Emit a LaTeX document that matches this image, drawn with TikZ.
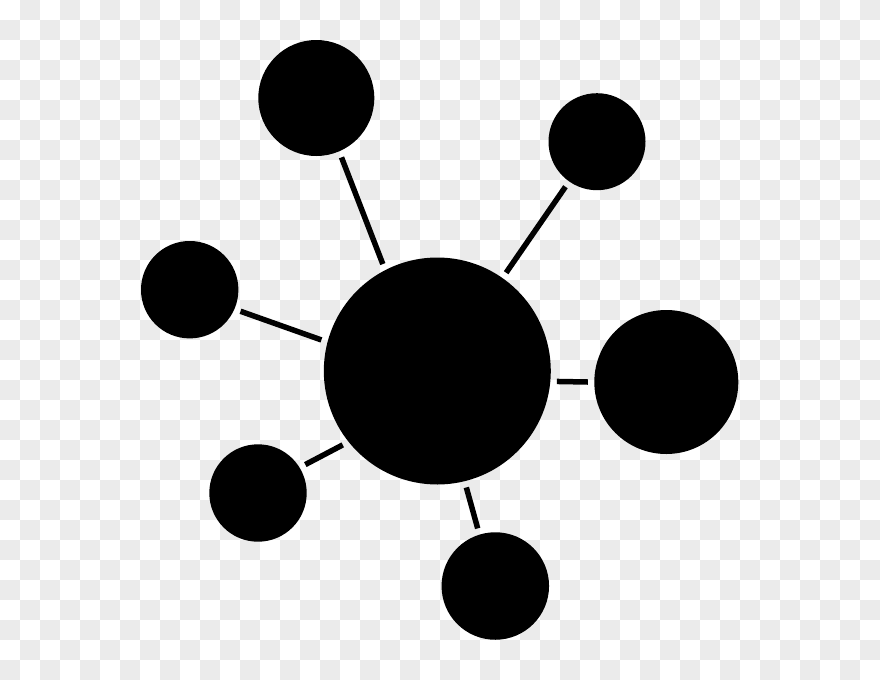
\documentclass[tikz,border=0pt]{standalone}
\usepackage{tikz}
\usetikzlibrary{shapes,arrows}
\usetikzlibrary{calc}
\definecolor{checkgray}{RGB}{235,235,235}

\begin{document}
\begin{tikzpicture}[x=1pt,y=-1pt]

\tikzstyle{ball} = [circle, fill=black, draw=none, inner sep=0, outer sep=6.5]
\tikzstyle{stick} = [line width=5.5, draw=black]

% checkered background
\fill[white] (0,0) rectangle (880,680);
\foreach \i in {0,...,43}
  \foreach \j in {0,...,33}
  {
    \pgfmathtruncatemacro{\odd}{mod(\i+\j,2)}
    \ifnum\odd=1 \fill[checkgray] (20*\i,20*\j) rectangle +(20,20); \fi
  }

\node [ball, minimum size=227] (hub) at (437.3,371) {};

\node [ball, minimum size=116] (tl) at (316.3,98) {};
\node [ball, minimum size=97] (tr) at (597,141.7) {};
\node [ball, minimum size=97.4] (lf) at (189.7,289.7) {};
\node [ball, minimum size=144] (rt) at (666.3,382) {};
\node [ball, minimum size=97.4] (bl) at (258,493) {};
\node [ball, minimum size=107.5] (bt) at (495.3,586) {};

\draw[stick] (tl.-67) -- (hub.117);
\draw[stick] (tr.235) -- (hub.55);
\draw[stick] (lf.-23) -- (hub.165);
\draw[stick] (hub.-5) -- (rt.180);
\draw[stick] (bl.31) -- (hub.218);
\draw[stick] (hub.-76) -- (bt.107);

\end{tikzpicture}
\end{document}
